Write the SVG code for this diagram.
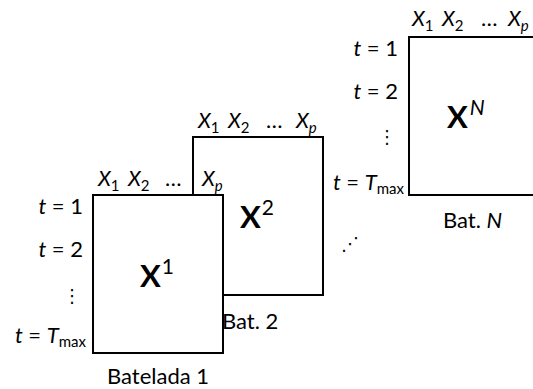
<svg xmlns="http://www.w3.org/2000/svg" width="533" height="389" viewBox="0 0 533 389">
<style>
.box{fill:#fff;stroke:#000;stroke-width:2}
text{font-family:Lato,"Open Sans","Liberation Sans",sans-serif;font-size:22px;fill:#000}
.v{font-style:italic;font-size:21px}
.it{font-style:italic}
.sub{font-size:15px}
.big{font-size:31px;font-weight:bold}
.sup{font-size:21px;font-weight:normal}
.dots{font-family:"DejaVu Sans",sans-serif;font-size:18px}
.r{text-anchor:end}
.m{text-anchor:middle}
</style>
<g id="batch-N">
<rect class="box" x="409" y="37" width="132" height="158"/>
<text class="v" x="412" y="26">X<tspan class="sub" font-style="normal" dy="5">1</tspan></text>
<text class="v" x="442" y="26">X<tspan class="sub" font-style="normal" dy="5">2</tspan></text>
<text x="481" y="26">…</text>
<text class="v" x="508" y="26">X<tspan class="sub" dy="5">p</tspan></text>
<text class="r" x="398" y="56"><tspan class="it">t</tspan> = 1</text>
<text class="r" x="398" y="99"><tspan class="it">t</tspan> = 2</text>
<text class="dots m" x="387" y="143">⋮</text>
<text class="r" x="404" y="190"><tspan class="it">t</tspan> = <tspan class="it">T</tspan><tspan class="sub" dy="4">max</tspan></text>
<text class="big" x="447" y="128">X<tspan class="sup it" dy="-13" dx="2">N</tspan></text>
<text x="443" y="228">Bat. <tspan class="it">N</tspan></text>
</g>
<g id="batch-2">
<rect class="box" x="193" y="137" width="130" height="158"/>
<text class="v" x="198" y="128">X<tspan class="sub" font-style="normal" dy="5">1</tspan></text>
<text class="v" x="228" y="128">X<tspan class="sub" font-style="normal" dy="5">2</tspan></text>
<text x="266" y="128">…</text>
<text class="v" x="296" y="128">X<tspan class="sub" dy="5">p</tspan></text>
<text class="big" x="240" y="228">X<tspan class="sup" dy="-13" dx="1">2</tspan></text>
<text x="222" y="329">Bat. 2</text>
</g>
<g id="batch-1">
<rect class="box" x="93" y="195" width="130" height="158"/>
<text class="v" x="98" y="186">X<tspan class="sub" font-style="normal" dy="5">1</tspan></text>
<text class="v" x="128" y="186">X<tspan class="sub" font-style="normal" dy="5">2</tspan></text>
<text x="165" y="186">…</text>
<text class="v" x="202" y="186">X<tspan class="sub" dy="5">p</tspan></text>
<text class="r" x="83" y="214"><tspan class="it">t</tspan> = 1</text>
<text class="r" x="83" y="257"><tspan class="it">t</tspan> = 2</text>
<text class="dots m" x="72" y="302">⋮</text>
<text class="r" x="86" y="343"><tspan class="it">t</tspan> = <tspan class="it">T</tspan><tspan class="sub" dy="4">max</tspan></text>
<text class="big" x="140" y="287">X<tspan class="sup" dy="-13" dx="1">1</tspan></text>
<text class="m" x="158" y="384">Batelada 1</text>
</g>
<g id="connectors">
<text class="dots m" x="350" y="250">⋰</text>
</g>
</svg>
